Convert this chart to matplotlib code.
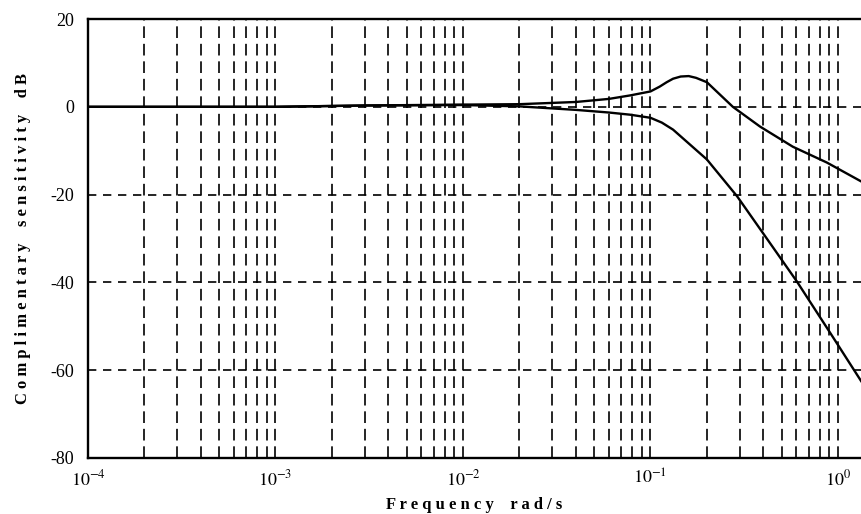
import matplotlib.pyplot as plt
import numpy as np
from matplotlib.ticker import LogLocator, FixedLocator

plt.rcParams['font.family'] = ['Liberation Serif', 'DejaVu Serif']
plt.rcParams['mathtext.fontset'] = 'stix'

# upper curve (peaking)
f_upper = np.array([1e-4, 1e-3, 3e-3, 1e-2, 2e-2, 4e-2, 6e-2, 7.8e-2, 0.1, 0.112, 0.122,
                    0.132, 0.145, 0.16, 0.175, 0.2, 0.275, 0.384, 0.575, 0.873, 1.33])
t_upper = np.array([0, 0, 0.3, 0.5, 0.6, 1.1, 1.8, 2.6, 3.5, 4.6, 5.6,
                    6.4, 6.9, 7.0, 6.6, 5.6, 0, -4.5, -9.1, -12.7, -17])

# lower curve (rolling off)
f_lower = np.array([1e-4, 1e-3, 3e-3, 1e-2, 2e-2, 4e-2, 6e-2, 7.8e-2, 0.1, 0.115, 0.132,
                    0.2, 0.29, 0.45, 0.604, 0.906, 1.33])
t_lower = np.array([0, 0, 0.3, 0.4, 0.1, -0.7, -1.3, -1.8, -2.5, -3.6, -5.2,
                    -12, -20.4, -32, -39.8, -51.4, -62.5])

y_ticks = [20, 0, -20, -40, -60, -80]
x_decades = [1e-4, 1e-3, 1e-2, 1e-1, 1e0]
x_labels = ['$10^{-4}$', '$10^{-3}$', '$10^{-2}$', '$10^{-1}$', '$10^{0}$']

fig = plt.figure(figsize=(8.61, 5.14), dpi=100)
ax = fig.add_axes([0.1022, 0.109, 0.898, 0.854])

ax.semilogx(f_upper, t_upper, color='black', lw=1.7, zorder=3)
ax.semilogx(f_lower, t_lower, color='black', lw=1.7, zorder=3)

ax.set_xlim(1e-4, 1.33)
ax.set_ylim(-80, 20)

ax.xaxis.set_major_locator(FixedLocator(x_decades))
ax.set_xticks(x_decades)
ax.set_xticklabels(x_labels, fontsize=13)
ax.xaxis.set_minor_locator(LogLocator(base=10, subs=np.arange(2, 10), numticks=20))
ax.set_yticks(y_ticks)
ax.set_yticklabels([str(v) for v in y_ticks], fontsize=13)

ax.grid(True, which='both', axis='x', color='black', linestyle=(0, (7, 3.5)), lw=1.2)
ax.grid(True, which='major', axis='y', color='black', linestyle=(0, (5, 4)), lw=1.2)

ax.tick_params(which='both', length=0, pad=8)
ax.tick_params(axis='y', pad=10)

for s in ['left', 'top', 'bottom']:
    ax.spines[s].set_linewidth(1.7)
ax.spines['right'].set_visible(False)

ax.set_xlabel('F r e q u e n c y    r a d / s', fontsize=12, fontweight='bold', labelpad=6)
ax.set_ylabel('C o m p l i m e n t a r y    s e n s i t i v i t y    d B',
              fontsize=12, fontweight='bold', labelpad=14)

fig.savefig('out.png', dpi=100)
